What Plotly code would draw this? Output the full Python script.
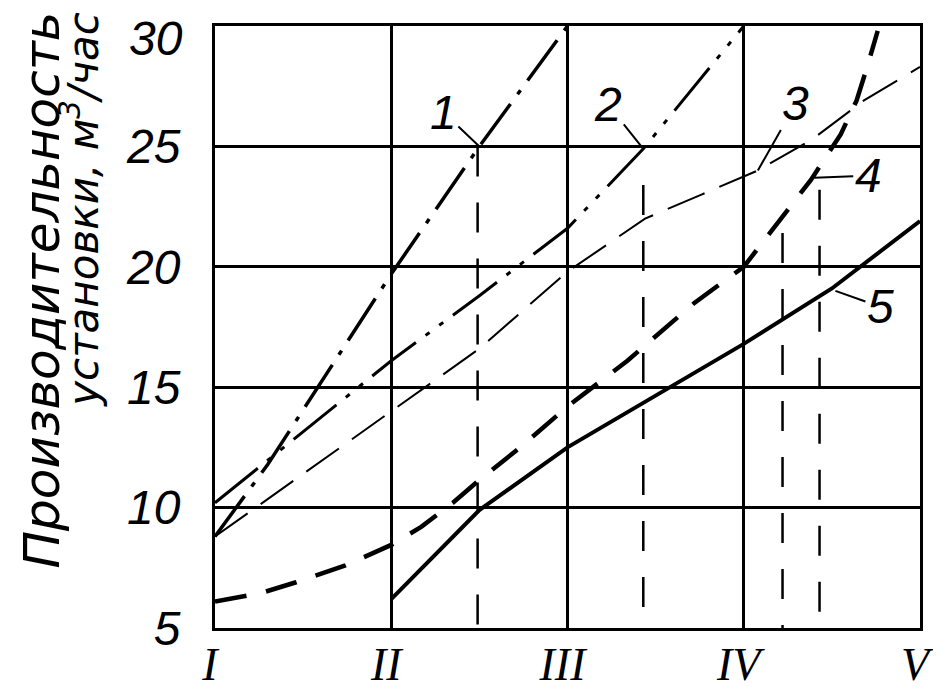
import plotly.graph_objects as go

# ---- data ----
x_ticks = [1, 2, 3, 4, 5]
x_labels = ["I", "II", "III", "IV", "V"]
y_ticks = [5, 10, 15, 20, 25, 30]

c1_x = [1.0, 1.3, 2.0, 2.5, 3.0]
c1_y = [8.8, 11.8, 19.7, 25.0, 30.0]

c2_x = [1.0, 2.0, 2.5, 3.0, 3.43, 4.0]
c2_y = [10.2, 16.1, 18.8, 21.6, 24.9, 30.0]

c3_x = [1.0, 2.0, 2.5, 3.0, 3.44, 3.76, 4.08, 4.39, 4.68, 5.0]
c3_y = [8.8, 14.0, 16.6, 19.8, 22.0, 23.0, 24.0, 25.3, 26.9, 28.3]

c4_x = [1.0, 1.26, 1.46, 1.74, 2.0, 2.17, 2.35, 2.5, 2.74, 3.0,
        3.34, 3.55, 3.72, 4.0, 4.16, 4.38, 4.55, 4.64, 4.7, 4.76]
c4_y = [6.1, 6.45, 6.9, 7.6, 8.45, 9.2, 10.2, 11.15, 12.55, 14.2,
        16.1, 17.4, 18.5, 20.0, 21.5, 23.6, 25.5, 26.9, 28.3, 29.8]

c5_x = [2.0, 2.5, 3.0, 4.0, 4.5, 5.0]
c5_y = [6.2, 9.9, 12.5, 16.8, 19.1, 21.9]

vline_x = [2.49, 3.43, 4.22, 4.43]
vline_top = [25.0, 23.4, 21.4, 23.2]
y_bottom = 5

curve_labels = ["1", "2", "3", "4", "5"]

fig = go.Figure()

def add_line(xs, ys, width, dash):
    fig.add_trace(go.Scatter(x=xs, y=ys, mode="lines", showlegend=False,
                             hoverinfo="skip",
                             line=dict(color="black", width=width, dash=dash)))

# vertical dashed lines
for vx, vt in zip(vline_x, vline_top):
    add_line([vx, vx], [vt, y_bottom], 2.5, "30px,26px")

add_line(c1_x, c1_y, 3.5, "50px,12px,5px,12px")
add_line(c2_x, c2_y, 3, "55px,12px,5px,12px,5px,12px")
add_line(c3_x, c3_y, 2, "40px,16px")
add_line(c4_x, c4_y, 4.5, "32px,20px")
add_line(c5_x, c5_y, 4, "solid")

num_font = dict(family="Liberation Sans", size=48, color="black", style="italic")
label_specs = [
    (curve_labels[0], c1_x[3], c1_y[3], -36, -34),
    (curve_labels[1], c2_x[4], c2_y[4], -35, -44),
    (curve_labels[2], 4.08, 24.0, 38, -67),
    (curve_labels[3], 4.40, 23.7, 54, -2),
    (curve_labels[4], 4.52, 19.0, 45, 16),
]
for txt, px, py, ax, ay in label_specs:
    fig.add_annotation(x=px, y=py, text=txt, showarrow=True, ax=ax, ay=ay,
                       arrowhead=0, arrowwidth=2, arrowcolor="black",
                       standoff=0, font=num_font)

# top y tick label sits below the frame line in the reference
fig.add_annotation(xref="paper", yref="y", x=-0.043, y=y_ticks[-1],
                   xanchor="right", yanchor="middle", yshift=-12,
                   text=str(y_ticks[-1]), showarrow=False, font=num_font)

title_font1 = dict(family="DejaVu Sans", size=50, color="black", style="italic")
title_font2 = dict(family="DejaVu Sans", size=42, color="black", style="italic")
fig.add_annotation(xref="paper", yref="paper", x=-0.245, y=1.027,
                   xanchor="center", yanchor="top", textangle=-90,
                   text="Производительность", showarrow=False, font=title_font1)
fig.add_annotation(xref="paper", yref="paper", x=-0.19, y=1.027,
                   xanchor="center", yanchor="top", textangle=-90,
                   text="установки, м<sup>3</sup>/час", showarrow=False,
                   font=title_font2)

fig.update_xaxes(range=[1, 5], tickvals=x_ticks, ticktext=x_labels,
                 showgrid=True, gridcolor="black", gridwidth=2.5,
                 showline=True, linecolor="black", linewidth=3, mirror=True,
                 zeroline=False, ticks="", ticklabelstandoff=-6,
                 ticklabelshift=-5, ticklabeloverflow="allow",
                 tickfont=dict(family="Liberation Serif", size=46,
                               color="black", style="italic"))
fig.update_yaxes(range=[5, 30], tickvals=y_ticks[:-1],
                 showgrid=True, gridcolor="black", gridwidth=2.5,
                 showline=True, linecolor="black", linewidth=3, mirror=True,
                 zeroline=False, ticks="", ticklabelstandoff=22,
                 ticklabeloverflow="allow",
                 tickfont=num_font)

# page body has an 8px margin, so the figure is sized to fit inside the window
fig.update_layout(width=925, height=684,
                  margin=dict(l=207, r=13, t=18, b=64, autoexpand=False),
                  plot_bgcolor="white", paper_bgcolor="white")

fig.write_html("out.html")
